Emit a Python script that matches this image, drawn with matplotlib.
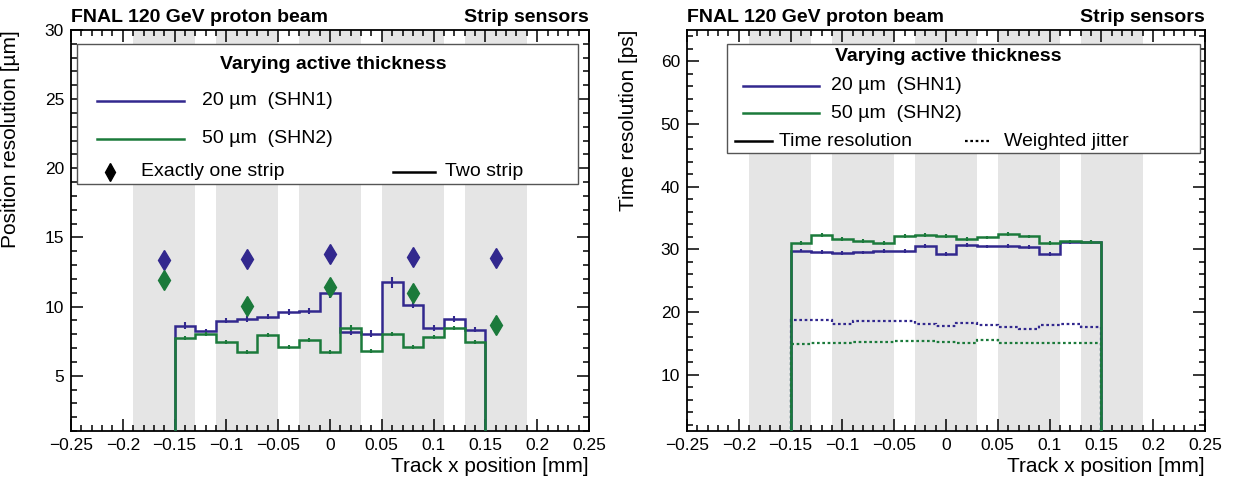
import numpy as np
import matplotlib
matplotlib.use("Agg")
import matplotlib.pyplot as plt
from matplotlib.patches import Rectangle
from matplotlib.lines import Line2D
from matplotlib.ticker import MultipleLocator, FuncFormatter

plt.rcParams["font.family"] = ["Liberation Sans", "DejaVu Sans"]

# Bin edges of the histograms (mm): 0.02 mm bins over the full range
edges = np.round(np.arange(-0.25, 0.2501, 0.02), 3)
centers = np.round(np.arange(-0.14, 0.1401, 0.02), 3)

# Metal strips (grey bands)
strip_lo = [-0.19, -0.11, -0.03, 0.05, 0.13]
strip_hi = [-0.13, -0.05, 0.03, 0.11, 0.19]
strip_centers = [-0.16, -0.08, 0.0, 0.08, 0.16]

# Position resolution, two-strip events [um]
pos_20 = [8.62, 8.21, 8.99, 9.11, 9.28, 9.61, 9.66, 10.96, 8.19, 8.02, 11.76, 10.14, 8.45, 9.11, 8.33]
pos_20_err = [0.25, 0.2, 0.2, 0.2, 0.2, 0.2, 0.2, 0.35, 0.25, 0.25, 0.4, 0.25, 0.2, 0.2, 0.2]
pos_50 = [7.73, 7.99, 7.46, 6.69, 7.97, 7.05, 7.58, 6.71, 8.45, 6.81, 8.02, 7.08, 7.78, 8.43, 7.46]
pos_50_err = [0.15, 0.15, 0.15, 0.15, 0.15, 0.15, 0.15, 0.15, 0.2, 0.15, 0.15, 0.15, 0.15, 0.15, 0.15]

# Position resolution, exactly one strip events [um]
one_20 = [13.35, 13.45, 13.8, 13.55, 13.5]
one_50 = [11.95, 10.05, 11.45, 10.95, 8.65]

# Time resolution [ps]
time_20 = [29.8, 29.6, 29.35, 29.5, 29.75, 29.75, 30.55, 29.25, 30.65, 30.45, 30.5, 30.4, 29.25, 31.15, 31.15]
time_50 = [31.05, 32.25, 31.65, 31.35, 31.05, 32.15, 32.25, 32.1, 31.65, 31.9, 32.45, 32.05, 31.05, 31.25, 31.15]
time_err = [0.3] * 15

# Weighted jitter [ps]
jit_20 = [18.75, 18.75, 18.05, 18.55, 18.55, 18.6, 18.05, 17.8, 18.3, 17.9, 17.55, 17.3, 17.85, 18.1, 17.55]
jit_50 = [14.85, 15.05, 15.1, 15.2, 15.2, 15.3, 15.3, 15.2, 15.1, 15.45, 15.05, 15.0, 15.05, 15.05, 15.05]

blue = "#32288e"
green = "#1b7a3b"
band = "#e5e5e5"
fs = 14


def full(vals):
    # pad with zeros outside the -0.15..0.15 region
    return np.concatenate([np.zeros(5), vals, np.zeros(5)])


def style_axes(ax, ylo, yhi, ymaj, ymin_step):
    ax.set_xlim(-0.25, 0.25)
    ax.set_ylim(ylo, yhi)
    ax.xaxis.set_major_locator(MultipleLocator(0.05))
    ax.xaxis.set_minor_locator(MultipleLocator(0.01))
    ax.yaxis.set_major_locator(MultipleLocator(ymaj))
    ax.yaxis.set_minor_locator(MultipleLocator(ymin_step))
    ax.xaxis.set_major_formatter(FuncFormatter(lambda v, p: f"{round(v, 3) + 0:g}".replace("-", "\u2212")))
    ax.tick_params(which="both", direction="in", top=True, right=True, labelsize=12.5, width=1.1)
    ax.tick_params(which="major", length=8.5, pad=5)
    ax.tick_params(which="minor", length=4.2)
    for s in ax.spines.values():
        s.set_linewidth(1.3)
    for lo, hi in zip(strip_lo, strip_hi):
        ax.axvspan(lo, hi, color=band, lw=0, zorder=0)
    ax.text(0, 1.01, "FNAL 120 GeV proton beam", transform=ax.transAxes, ha="left", va="bottom",
            fontsize=14, fontweight="bold")
    ax.text(1, 1.01, "Strip sensors", transform=ax.transAxes, ha="right", va="bottom",
            fontsize=14, fontweight="bold")
    ax.set_xlabel("Track x position [mm]", fontsize=15, loc="right")
    ax.xaxis.set_label_coords(1.0, -0.065)


fig = plt.figure(figsize=(12.36, 4.82), dpi=100)
ax1 = fig.add_axes([71 / 1236, 1 - 431 / 482, 518 / 1236, 401 / 482])
ax2 = fig.add_axes([687 / 1236, 1 - 431 / 482, 518 / 1236, 401 / 482])

# ---- left: position resolution ----
style_axes(ax1, 1, 30, 5, 1)
ax1.set_ylabel("Position resolution [\u00b5m]", fontsize=15, loc="top")
ax1.yaxis.set_label_coords(-0.098, 1.0)
for vals, err, c in [(pos_20, pos_20_err, blue), (pos_50, pos_50_err, green)]:
    ax1.stairs(full(vals), edges, color=c, lw=1.8, zorder=3)
    ax1.errorbar(centers, vals, yerr=err, fmt="none", ecolor=c, elinewidth=1.5, capsize=0, zorder=3)
ax1.plot(strip_centers, one_20, "d", color=blue, ms=10, zorder=4)
ax1.plot(strip_centers, one_50, "d", color=green, ms=10, zorder=4)

# legend box
T = ax1.transAxes
ax1.add_patch(Rectangle((0.0116, 0.617), 0.967, 0.348, transform=T, fill=True, fc="white",
                        ec="#555555", lw=1.0, zorder=5))
ax1.text(0.507, 0.914, "Varying active thickness", transform=T, ha="center", va="center",
         fontsize=fs, fontweight="bold", zorder=6)
ax1.add_line(Line2D([0.050, 0.218], [0.824, 0.824], transform=T, color=blue, lw=1.8, zorder=6))
ax1.text(0.253, 0.824, "20 \u00b5m  (SHN1)", transform=T, va="center", fontsize=fs, zorder=6)
ax1.add_line(Line2D([0.050, 0.218], [0.729, 0.729], transform=T, color=green, lw=1.8, zorder=6))
ax1.text(0.253, 0.729, "50 \u00b5m  (SHN2)", transform=T, va="center", fontsize=fs, zorder=6)
ax1.add_line(Line2D([0.075], [0.647], transform=T, marker="d", color="black", ms=9, ls="none", zorder=6))
ax1.text(0.135, 0.647, "Exactly one strip", transform=T, va="center", fontsize=fs, zorder=6)
ax1.add_line(Line2D([0.622, 0.703], [0.647, 0.647], transform=T, color="black", lw=1.8, zorder=6))
ax1.text(0.722, 0.647, "Two strip", transform=T, va="center", fontsize=fs, zorder=6)

# ---- right: time resolution ----
style_axes(ax2, 1, 65, 10, 2)
ax2.set_ylabel("Time resolution [ps]", fontsize=15, loc="top")
ax2.yaxis.set_label_coords(-0.095, 1.0)
for vals, jit, c in [(time_20, jit_20, blue), (time_50, jit_50, green)]:
    ax2.stairs(full(jit), edges, color=c, lw=1.6, ls=(0, (1.2, 1.2)), zorder=3)
    ax2.stairs(full(vals), edges, color=c, lw=1.8, zorder=3)
    ax2.errorbar(centers, vals, yerr=time_err, fmt="none", ecolor=c, elinewidth=1.5, capsize=0, zorder=3)

T = ax2.transAxes
ax2.add_patch(Rectangle((0.077, 0.694), 0.913, 0.272, transform=T, fill=True, fc="white",
                        ec="#555555", lw=1.0, zorder=5))
ax2.text(0.504, 0.934, "Varying active thickness", transform=T, ha="center", va="center",
         fontsize=fs, fontweight="bold", zorder=6)
ax2.add_line(Line2D([0.108, 0.255], [0.861, 0.861], transform=T, color=blue, lw=1.8, zorder=6))
ax2.text(0.278, 0.861, "20 \u00b5m  (SHN1)", transform=T, va="center", fontsize=fs, zorder=6)
ax2.add_line(Line2D([0.108, 0.255], [0.792, 0.792], transform=T, color=green, lw=1.8, zorder=6))
ax2.text(0.278, 0.792, "50 \u00b5m  (SHN2)", transform=T, va="center", fontsize=fs, zorder=6)
ax2.add_line(Line2D([0.092, 0.164], [0.723, 0.723], transform=T, color="black", lw=1.8, zorder=6))
ax2.text(0.178, 0.723, "Time resolution", transform=T, va="center", fontsize=fs, zorder=6)
ax2.add_line(Line2D([0.537, 0.583], [0.723, 0.723], transform=T, color="black", lw=1.6,
                    ls=(0, (1.2, 1.2)), zorder=6))
ax2.text(0.612, 0.723, "Weighted jitter", transform=T, va="center", fontsize=fs, zorder=6)

fig.savefig("out.png", dpi=100)
